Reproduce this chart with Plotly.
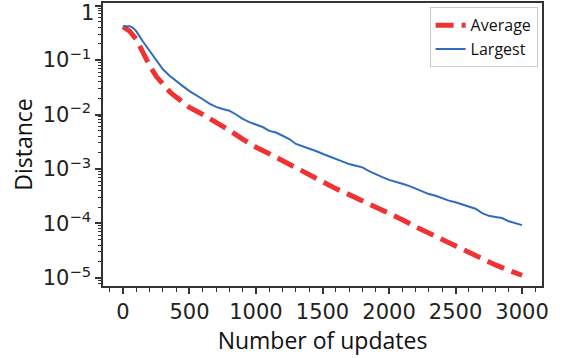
import plotly.graph_objects as go

# Number of updates (x) and log10 of distance for each series
largest_x = [0, 25, 50, 75, 100, 150, 200, 250, 300, 350, 400, 450, 500, 550, 600, 650, 700, 750,
             800, 850, 900, 950, 1000, 1050, 1100, 1150, 1200, 1250, 1300, 1350, 1400, 1450, 1500,
             1550, 1600, 1650, 1700, 1750, 1800, 1850, 1900, 1950, 2000, 2050, 2100, 2150, 2200,
             2250, 2300, 2350, 2400, 2450, 2500, 2550, 2600, 2650, 2700, 2750, 2800, 2850, 2900,
             2950, 3000]
largest_log = [-0.38, -0.38, -0.38, -0.41, -0.47, -0.66, -0.83, -1.02, -1.17, -1.29, -1.39, -1.48,
               -1.57, -1.64, -1.72, -1.80, -1.86, -1.90, -1.93, -2.00, -2.08, -2.14, -2.18, -2.23,
               -2.30, -2.33, -2.39, -2.45, -2.54, -2.58, -2.63, -2.67, -2.72, -2.77, -2.82, -2.87,
               -2.91, -2.94, -2.97, -3.04, -3.10, -3.15, -3.20, -3.23, -3.27, -3.31, -3.36, -3.42,
               -3.46, -3.49, -3.54, -3.58, -3.61, -3.65, -3.69, -3.73, -3.81, -3.86, -3.88, -3.90,
               -3.96, -4.00, -4.03]

average_x = [0, 50, 100, 150, 200, 250, 300, 350, 400, 450, 500, 600, 700, 800, 900, 1000, 1100,
             1200, 1300, 1400, 1500, 1600, 1700, 1800, 1900, 2000, 2100, 2200, 2300, 2400, 2500,
             2600, 2700, 2800, 2900, 3000]
average_log = [-0.39, -0.47, -0.62, -0.88, -1.10, -1.30, -1.45, -1.58, -1.68, -1.78, -1.87, -2.00,
               -2.14, -2.29, -2.45, -2.60, -2.72, -2.85, -2.98, -3.11, -3.24, -3.36, -3.47, -3.58,
               -3.69, -3.80, -3.93, -4.06, -4.18, -4.30, -4.42, -4.54, -4.66, -4.76, -4.86, -4.95]

y_tick_vals = [1e-5, 1e-4, 1e-3, 1e-2, 1e-1, 1]
y_tick_text = ["10<sup>\u22125</sup>", "10<sup>\u22124</sup>", "10<sup>\u22123</sup>",
               "10<sup>\u22122</sup>", "10<sup>\u22121</sup>", ""]
top_tick_label = "1"
x_tick_vals = [0, 500, 1000, 1500, 2000, 2500, 3000]

largest_y = [10 ** v for v in largest_log]
average_y = [10 ** v for v in average_log]

LABEL_FONT = "Open Sans"
TICK_FONT = "DejaVu Sans"

fig = go.Figure()
fig.add_trace(go.Scatter(x=average_x, y=average_y, mode="lines", name="Average",
                         line=dict(color="#F03232", width=5, dash="18px,8px")))
fig.add_trace(go.Scatter(x=largest_x, y=largest_y, mode="lines", name="Largest",
                         line=dict(color="#2E6CC0", width=2)))

axis_common = dict(showline=True, linecolor="#333333", linewidth=1.5, mirror=True,
                   ticks="outside", ticklen=6, tickwidth=1.5, tickcolor="#333333",
                   showgrid=False, zeroline=False, ticklabeloverflow="allow", automargin=False,
                   tickfont=dict(family=TICK_FONT, size=21, color="#222222"))

fig.update_xaxes(range=[-150, 3150], tickmode="array", tickvals=x_tick_vals,
                 minor=dict(ticks="outside", ticklen=4, tickwidth=1.2, tickcolor="#333333", dtick=100, tick0=0),
                 title=dict(text="Number of updates", font=dict(family=LABEL_FONT, size=23, color="#111111"),
                            standoff=2),
                 **axis_common)
fig.update_yaxes(type="log", range=[-5.147, 0.046], tickmode="array",
                 tickvals=y_tick_vals, ticktext=y_tick_text,
                 minor=dict(ticks="outside", ticklen=3, tickwidth=1, tickcolor="#333333", dtick="D1"),
                 title=dict(text="Distance", font=dict(family=LABEL_FONT, size=23, color="#111111"),
                            standoff=4),
                 **axis_common)

fig.add_annotation(text=top_tick_label, xref="paper", x=0, xanchor="right", xshift=-8,
                   yref="y", y=0, yanchor="top", yshift=6, showarrow=False, borderpad=0,
                   font=dict(family=TICK_FONT, size=21, color="#222222"))

fig.update_layout(
    width=567, height=358,
    margin=dict(l=103, r=25, t=3, b=72, autoexpand=False),
    plot_bgcolor="white", paper_bgcolor="white",
    showlegend=True,
    legend=dict(x=0.99, y=0.985, xanchor="right", yanchor="top",
                bgcolor="rgba(255,255,255,0.9)", bordercolor="#cccccc", borderwidth=1,
                font=dict(family=LABEL_FONT, size=16, color="#111111"),
                tracegroupgap=0, itemwidth=30),
)

fig.write_html("out.html")
